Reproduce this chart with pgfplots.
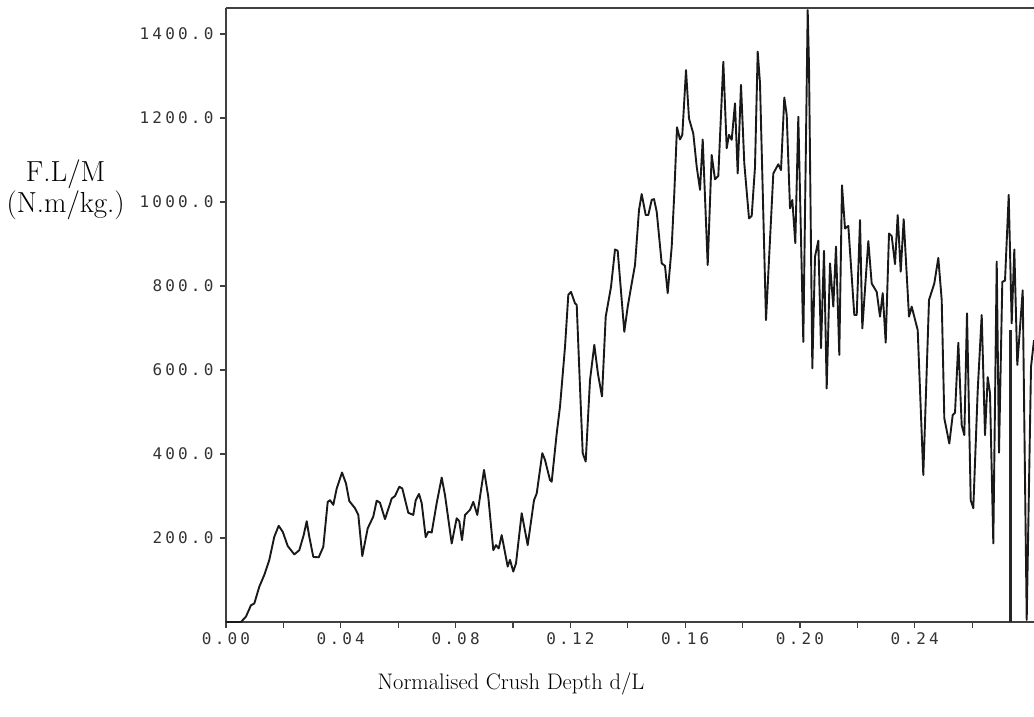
\documentclass[border=0pt]{standalone}
\usepackage{fontspec}
\usepackage{pgfplots}
\pgfplotsset{compat=1.18}
\newfontfamily\tickfont[LetterSpace=20]{DejaVu Sans Mono}
\begin{document}
\begin{tikzpicture}
\begin{axis}[
  at={(226pt,94pt)}, anchor=south west,
  scale only axis, width=808pt, height=614pt,
  xmin=0, xmax=0.28153, ymin=0, ymax=1462,
  axis x line=box, axis y line=left,
  axis line style={-, line width=1.4pt, black!75},
  every outer x axis line/.append style={-},
  every outer y axis line/.append style={-},
  tick align=outside, xtick pos=left, ytick pos=left,
  major tick length=6pt, minor tick length=6pt,
  tick style={line width=1.3pt, black!75},
  xtick={0,0.04,0.08,0.12,0.16,0.20,0.24},
  xticklabels={0.00,0.04,0.08,0.12,0.16,0.20,0.24},
  minor xtick={0.02,0.06,0.10,0.14,0.18,0.22,0.26},
  ytick={200,400,600,800,1000,1200,1400},
  yticklabels={200.0,400.0,600.0,800.0,1000.0,1200.0,1400.0},
  ticklabel style={font=\fontsize{16}{18}\selectfont\tickfont, text=black!80},
  yticklabel style={xshift=-3pt},
  xticklabel style={yshift=-1pt},
  every axis x label/.style={at={(rel axis cs:0.3527,-0.101)},anchor=center,font=\fontsize{22.5}{26}\selectfont},
  every axis y label/.style={at={(rel axis cs:-0.1985,0.7036)},anchor=center,align=center,font=\fontsize{29}{31}\selectfont},
  xlabel={Normalised Crush Depth d/L},
  ylabel={F.L/M\\(N.m/kg.)},
]
\addplot[black!90, line width=1.9pt, line join=round] coordinates {
(0,0) (0.00523,0) (0.00697,13) (0.00871,40) (0.00986,44) (0.01160,84) (0.01334,112)
(0.01509,148) (0.01683,203) (0.01836,229) (0.01976,215) (0.02150,181) (0.02380,161)
(0.02554,171) (0.02707,207) (0.02812,240) (0.02902,203) (0.03042,155) (0.03230,154)
(0.03390,179) (0.03544,286) (0.03624,290) (0.03739,279) (0.03857,318) (0.04042,356)
(0.04181,330) (0.04296,288) (0.04495,271) (0.04610,255) (0.04749,157) (0.04937,223)
(0.05132,251) (0.05251,289) (0.05366,284) (0.05540,245) (0.05774,294) (0.05889,300)
(0.06038,322) (0.06143,318) (0.06352,260) (0.06526,255) (0.06610,290) (0.06725,305)
(0.06819,283) (0.06958,202) (0.07049,215) (0.07167,213) (0.07341,283) (0.07516,344)
(0.07631,302) (0.07864,187) (0.08038,247) (0.08129,240) (0.08223,195) (0.08328,255)
(0.08502,267) (0.08617,286) (0.08756,255) (0.08990,362) (0.09139,298) (0.09314,171)
(0.09408,183) (0.09502,175) (0.09606,207) (0.09815,132) (0.09895,148) (0.10010,120)
(0.10105,140) (0.10303,259) (0.10512,183) (0.10732,290) (0.10826,306) (0.11021,402)
(0.11115,386) (0.11289,338) (0.11348,334) (0.11523,449) (0.11638,513) (0.11812,655)
(0.11927,779) (0.12021,786) (0.12160,759) (0.12220,755) (0.12334,560) (0.12429,402)
(0.12533,382) (0.12683,576) (0.12833,660) (0.12962,590) (0.13101,537) (0.13230,727)
(0.13415,798) (0.13554,887) (0.13648,884) (0.13878,691) (0.13997,751) (0.14136,806)
(0.14251,850) (0.14390,981) (0.14484,1019) (0.14624,969) (0.14714,969) (0.14833,1005)
(0.14913,1007) (0.15007,977) (0.15181,854) (0.15296,848) (0.15390,783) (0.15530,894)
(0.15620,1021) (0.15714,1178) (0.15819,1149) (0.15899,1160) (0.16028,1314) (0.16132,1199)
(0.16282,1163) (0.16401,1084) (0.16516,1029) (0.16610,1149) (0.16784,850) (0.16923,1112)
(0.17038,1054) (0.17153,1062) (0.17328,1334) (0.17446,1128) (0.17526,1160) (0.17620,1148)
(0.17735,1235) (0.17829,1068) (0.17944,1279) (0.18059,1092) (0.18223,961) (0.18317,967)
(0.18432,1084) (0.18526,1358) (0.18606,1283) (0.18815,719) (0.19070,1068) (0.19244,1090)
(0.19338,1076) (0.19453,1249) (0.19537,1207) (0.19652,985) (0.19732,1005) (0.19836,902)
(0.19941,1203) (0.20115,667) (0.20268,1457) (0.20314,1322) (0.20429,604) (0.20523,870)
(0.20638,908) (0.20732,652) (0.20836,884) (0.20930,556) (0.21045,854) (0.21160,751)
(0.21254,894) (0.21369,636) (0.21463,1040) (0.21568,937) (0.21683,943) (0.21892,731)
(0.21976,731) (0.22091,957) (0.22171,699) (0.22380,907) (0.22498,806) (0.22673,786)
(0.22787,727) (0.22882,783) (0.22986,665) (0.23101,925) (0.23195,919) (0.23310,852)
(0.23404,969) (0.23509,834) (0.23613,959) (0.23798,727) (0.23892,751) (0.24101,695)
(0.24296,350) (0.24495,767) (0.24679,806) (0.24819,867) (0.24937,767) (0.25028,485)
(0.25202,425) (0.25321,493) (0.25401,498) (0.25516,665) (0.25634,469) (0.25725,445)
(0.25819,735) (0.25948,290) (0.26038,271) (0.26192,552) (0.26331,731) (0.26446,445)
(0.26540,583) (0.26620,545) (0.26735,187) (0.26854,858) (0.26934,403) (0.27049,810)
(0.27143,813) (0.27272,1017) (0.27376,711) (0.27467,887) (0.27571,612) (0.27760,790)
(0.27899,5) (0.28049,608) (0.28153,671)
};
\addplot[black!85, line width=2.8pt] coordinates {(0.27334,0) (0.27334,695)};
\end{axis}
\pgfresetboundingbox
\path[use as bounding box] (0,0) rectangle (1034pt,716pt);
\end{tikzpicture}
\end{document}
